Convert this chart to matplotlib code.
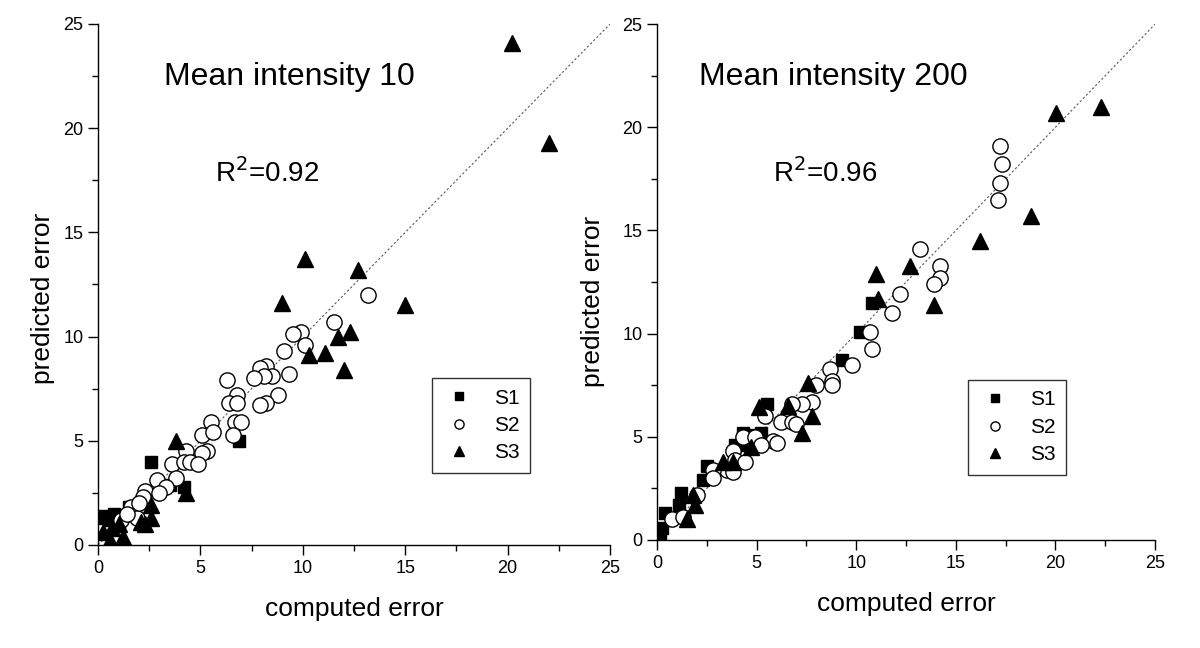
import numpy as np
import matplotlib
matplotlib.use('Agg')
import matplotlib.pyplot as plt

plt.rcParams['font.family'] = ['Liberation Sans', 'DejaVu Sans']

# ---- data: (computed error, predicted error) ----
# Mean intensity 10
s1_x_10 = [0.3, 0.6, 0.8, 1.0, 1.5, 2.6, 3.5, 4.2, 6.9, 0.2]
s1_y_10 = [1.3, 1.2, 1.5, 1.1, 1.8, 4.0, 2.9, 2.8, 5.0, 1.4]

s2_x_10 = [13.2, 11.5, 9.9, 9.5, 10.1, 9.1, 9.3, 8.2, 7.9, 8.5, 8.1, 7.6, 6.3,
           8.8, 6.8, 8.2, 7.9, 6.4, 6.8, 5.5, 6.7, 7.0, 5.1, 5.6, 6.6, 4.3,
           5.3, 5.1, 3.6, 4.2, 4.5, 4.9, 2.9, 3.8, 3.3, 2.3, 3.0, 2.2, 1.6,
           1.9, 1.1, 1.4, 2.0]
s2_y_10 = [12.0, 10.7, 10.2, 10.1, 9.6, 9.3, 8.2, 8.6, 8.5, 8.1, 8.1, 8.0, 7.9,
           7.2, 7.2, 6.8, 6.7, 6.8, 6.8, 5.9, 5.9, 5.9, 5.3, 5.4, 5.3, 4.5,
           4.5, 4.4, 3.9, 4.0, 4.0, 3.9, 3.1, 3.2, 2.8, 2.6, 2.5, 2.3, 1.8,
           1.3, 1.2, 1.5, 2.0]

s3_x_10 = [20.2, 22.0, 15.0, 12.7, 10.1, 9.0, 12.3, 11.7, 11.1, 10.3, 12.0,
           3.8, 4.3, 2.6, 2.6, 2.3, 2.1, 0.25, 0.6, 1.2, 0.7, 1.0]
s3_y_10 = [24.1, 19.3, 11.5, 13.2, 13.7, 11.6, 10.2, 10.0, 9.2, 9.1, 8.4,
           5.0, 2.5, 1.9, 1.3, 1.0, 1.1, 0.6, 0.25, 0.4, 0.8, 1.0]

# Mean intensity 200
s1_x_200 = [10.8, 10.2, 9.3, 5.5, 5.2, 4.3, 4.2, 3.9, 2.5, 2.3, 1.2, 1.1,
            0.4, 0.25, 0.15, 4.8]
s1_y_200 = [11.5, 10.1, 8.7, 6.6, 5.2, 5.2, 4.6, 4.6, 3.6, 2.9, 2.3, 1.7,
            1.3, 0.6, 0.25, 5.1]

s2_x_200 = [17.2, 17.3, 17.2, 17.1, 13.2, 14.2, 14.2, 13.9, 12.2, 11.8, 10.7,
            10.8, 9.8, 8.7, 8.8, 8.8, 8.0, 7.8, 7.3, 6.8, 5.4, 6.2, 6.8, 7.0,
            5.8, 6.0, 4.3, 4.9, 5.2, 3.8, 3.9, 4.4, 3.5, 3.8, 2.8, 2.8, 2.0,
            0.75, 1.3]
s2_y_200 = [19.1, 18.2, 17.3, 16.5, 14.1, 13.3, 12.7, 12.4, 11.9, 11.0, 10.1,
            9.25, 8.5, 8.3, 7.7, 7.5, 7.5, 6.7, 6.6, 6.6, 6.0, 5.7, 5.7, 5.6,
            4.8, 4.7, 5.0, 5.0, 4.6, 4.3, 3.9, 3.8, 3.4, 3.3, 3.4, 3.0, 2.2,
            1.0, 1.1]

s3_x_200 = [20.05, 22.3, 18.8, 16.2, 12.7, 11.0, 13.9, 11.1, 7.6, 6.6, 5.1,
            7.8, 7.3, 4.7, 3.3, 3.8, 1.8, 1.9, 1.5]
s3_y_200 = [20.7, 21.0, 15.7, 14.5, 13.3, 12.9, 11.4, 11.7, 7.6, 6.5, 6.45,
            6.0, 5.2, 4.5, 3.8, 3.8, 2.2, 1.7, 1.0]

panels = [
    dict(s1=(s1_x_10, s1_y_10), s2=(s2_x_10, s2_y_10), s3=(s3_x_10, s3_y_10),
         title='Mean intensity 10', r2='R$^2$=0.92',
         rect=[0.0817, 0.159, 0.4267, 0.804], leg=(0.652, 0.32),
         tpos=(0.374, 0.883), rpos=(0.331, 0.697), ylab=(-0.084, 0.474)),
    dict(s1=(s1_x_200, s1_y_200), s2=(s2_x_200, s2_y_200), s3=(s3_x_200, s3_y_200),
         title='Mean intensity 200', r2='R$^2$=0.96',
         rect=[0.5475, 0.1667, 0.415, 0.796], leg=(0.624, 0.31),
         tpos=(0.355, 0.882), rpos=(0.337, 0.694), ylab=(-0.104, 0.463)),
]

fig = plt.figure(figsize=(12, 6.48), dpi=100)

for p in panels:
    ax = fig.add_axes(p['rect'])
    ax.plot([0, 25], [0, 25], color='0.35', lw=0.8, ls=(0, (2, 2)), zorder=1)
    ax.plot(*p['s1'], 's', ms=9, mfc='black', mec='black', ls='none', label='S1', zorder=3)
    ax.plot(*p['s2'], 'o', ms=11, mfc='white', mec='black', mew=1.0, ls='none', label='S2', zorder=3)
    ax.plot(*p['s3'], '^', ms=11, mfc='black', mec='black', ls='none', label='S3', zorder=3)

    ax.set_xlim(0, 25)
    ax.set_ylim(0, 25)
    ax.set_xticks(np.arange(0, 26, 5))
    ax.set_yticks(np.arange(0, 26, 5))
    ax.set_xticks(np.arange(2.5, 25, 5), minor=True)
    ax.set_yticks(np.arange(2.5, 25, 5), minor=True)
    ax.tick_params(which='major', direction='out', length=7, width=1, labelsize=13)
    ax.tick_params(which='minor', direction='out', length=4, width=1)
    for side in ['top', 'right']:
        ax.spines[side].set_visible(False)
    for side in ['left', 'bottom']:
        ax.spines[side].set_linewidth(1.0)

    ax.set_xlabel('computed error', fontsize=19)
    ax.set_ylabel('predicted error', fontsize=19)
    ax.xaxis.set_label_coords(0.5, -0.1)
    ax.yaxis.set_label_coords(*p['ylab'])

    ax.text(p['tpos'][0], p['tpos'][1], p['title'], transform=ax.transAxes,
            fontsize=23, ha='center', va='baseline')
    ax.text(p['rpos'][0], p['rpos'][1], p['r2'], transform=ax.transAxes,
            fontsize=20, ha='center', va='baseline')

    leg = ax.legend(loc='upper left', bbox_to_anchor=p['leg'], borderaxespad=0,
                    markerscale=0.6, fontsize=15, fancybox=False, frameon=True,
                    edgecolor='black', handletextpad=0.9, labelspacing=0.4,
                    borderpad=0.5, handlelength=1.6)
    leg.get_frame().set_linewidth(1.0)

plt.savefig('out.png', dpi=100)
